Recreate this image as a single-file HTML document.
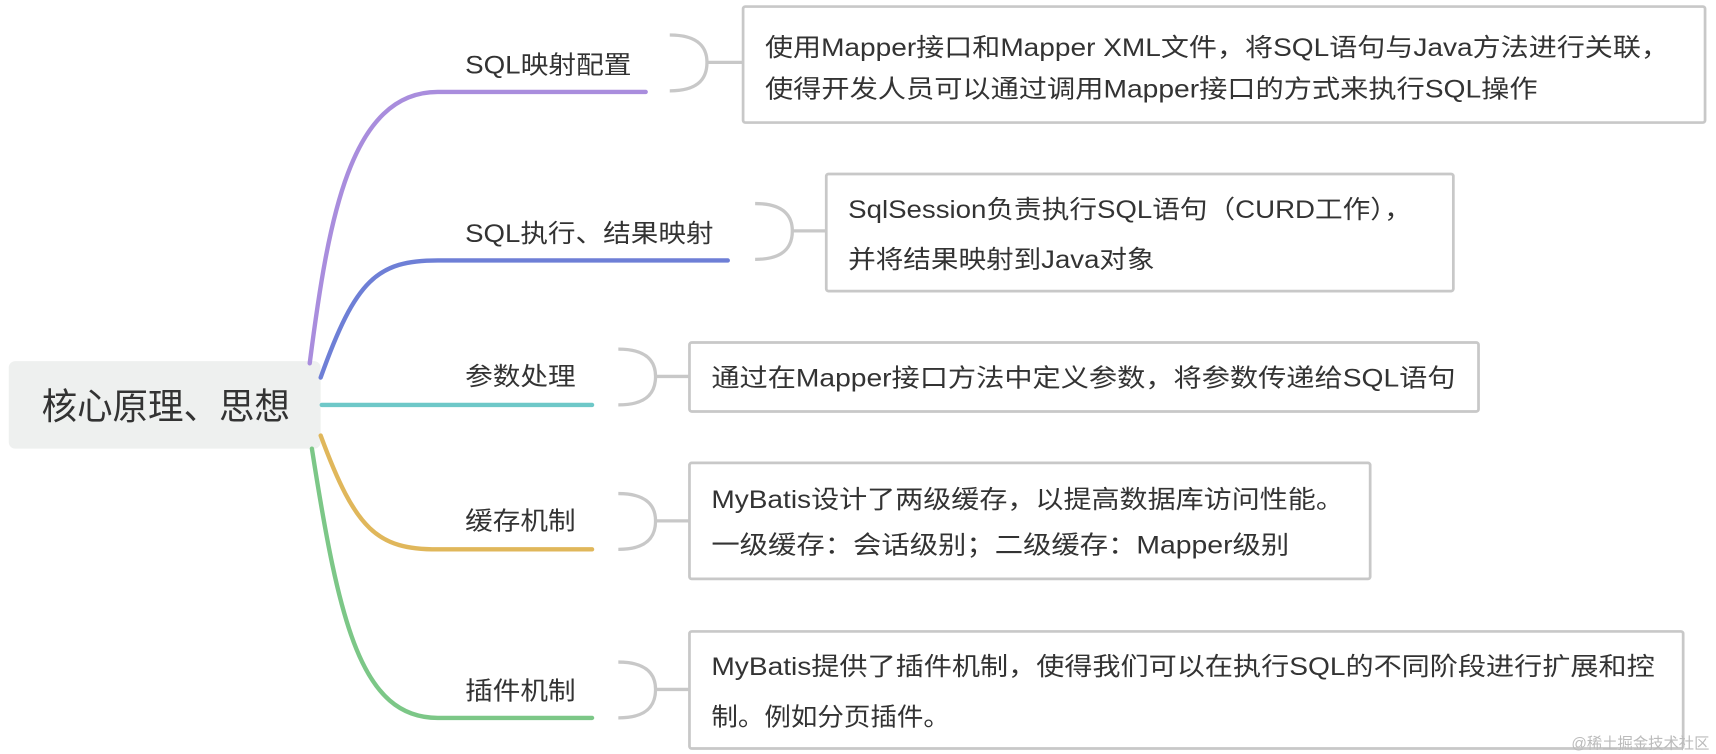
<!DOCTYPE html>
<html><head><meta charset="utf-8"><style>
html,body{margin:0;padding:0;background:#fff;width:1716px;height:754px;overflow:hidden}
svg{display:block}
text{font-family:"Liberation Sans","Noto Sans CJK SC",sans-serif;fill:#333}
</style></head><body>
<svg width="1716" height="754" viewBox="0 0 1568 689" preserveAspectRatio="none" xmlns="http://www.w3.org/2000/svg">
<rect x="8" y="330" width="285" height="80" rx="6" fill="#eef0ef"/>
<text x="38" y="383" font-size="33" textLength="227" lengthAdjust="spacingAndGlyphs">核心原理、思想</text>
<g fill="none" stroke-width="4" stroke-linecap="round">
<path d="M283,332 C300,200 320,84 400,84 L590,84" stroke="#a98ddd"/>
<path d="M293,345 C325,255 345,238 400,238 L665,238" stroke="#6e7fd6"/>
<path d="M294,370 L541,370" stroke="#6ec8c8"/>
<path d="M293,398 C325,485 345,502 400,502 L541,502" stroke="#e0b75b"/>
<path d="M285,410 C310,570 330,656 400,656 L541,656" stroke="#7cc787"/>
</g>
<g fill="none" stroke="#c8c8c8" stroke-width="3">
<path d="M612,32 C640,32 646,45 646,57 C646,70 640,83 612,83 M646,57 L680,57"/>
<path d="M690,186 C718,186 724,199 724,211 C724,224 718,237 690,237 M724,211 L755,211"/>
<path d="M565,319 C593,319 599,332 599,344 C599,357 593,370 565,370 M599,344 L630,344"/>
<path d="M565,451 C593,451 599,464 599,476 C599,489 593,502 565,502 M599,476 L630,476"/>
<path d="M565,605 C593,605 599,618 599,630 C599,643 593,656 565,656 M599,630 L630,630"/>
</g>
<g fill="#fff" stroke="#c8c8c8" stroke-width="2.5">
<rect x="679" y="6" width="879" height="106" rx="2"/>
<rect x="755" y="159" width="573" height="107" rx="2"/>
<rect x="630" y="313" width="721" height="63" rx="2"/>
<rect x="630" y="423" width="622" height="106" rx="2"/>
<rect x="630" y="577" width="908" height="107" rx="2"/>
</g>
<g font-size="23" lengthAdjust="spacingAndGlyphs">
<text x="425" y="67" textLength="152" lengthAdjust="spacingAndGlyphs">SQL映射配置</text>
<text x="425" y="221" textLength="227" lengthAdjust="spacingAndGlyphs">SQL执行、结果映射</text>
<text x="425" y="352" textLength="101" lengthAdjust="spacingAndGlyphs">参数处理</text>
<text x="425" y="484" textLength="101" lengthAdjust="spacingAndGlyphs">缓存机制</text>
<text x="425" y="639" textLength="101" lengthAdjust="spacingAndGlyphs">插件机制</text>
<text x="699" y="51" textLength="826" lengthAdjust="spacingAndGlyphs">使用Mapper接口和Mapper XML文件，将SQL语句与Java方法进行关联，</text>
<text x="699" y="89" textLength="706" lengthAdjust="spacingAndGlyphs">使得开发人员可以通过调用Mapper接口的方式来执行SQL操作</text>
<text x="775" y="199" textLength="515" lengthAdjust="spacingAndGlyphs">SqlSession负责执行SQL语句（CURD工作），</text>
<text x="775" y="245" textLength="280" lengthAdjust="spacingAndGlyphs">并将结果映射到Java对象</text>
<text x="650" y="353" textLength="680" lengthAdjust="spacingAndGlyphs">通过在Mapper接口方法中定义参数，将参数传递给SQL语句</text>
<text x="650" y="464" textLength="578" lengthAdjust="spacingAndGlyphs">MyBatis设计了两级缓存，以提高数据库访问性能。</text>
<text x="650" y="506" textLength="528" lengthAdjust="spacingAndGlyphs">一级缓存：会话级别；二级缓存：Mapper级别</text>
<text x="650" y="617" textLength="862" lengthAdjust="spacingAndGlyphs">MyBatis提供了插件机制，使得我们可以在执行SQL的不同阶段进行扩展和控</text>
<text x="650" y="663" textLength="218" lengthAdjust="spacingAndGlyphs">制。例如分页插件。</text>
</g>
<text x="1562" y="684" font-size="14" text-anchor="end" style="fill:#bbb">@稀土掘金技术社区</text>
</svg>
</body></html>
